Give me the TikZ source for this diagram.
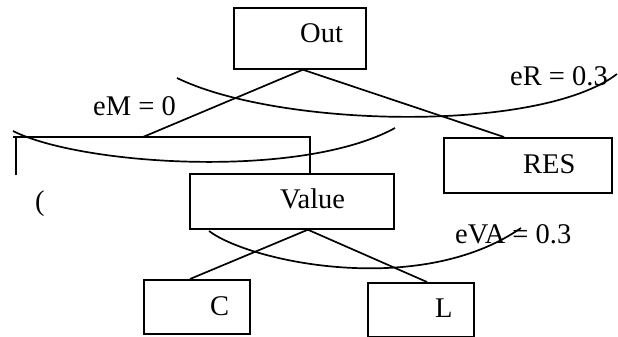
\documentclass[tikz,border=0pt]{standalone}
\usepackage{fontspec}
\setmainfont{Liberation Serif}
\usetikzlibrary{calc}
\begin{document}
\begin{tikzpicture}[x=1pt,y=-1pt,
  box/.style={draw,line width=1.7pt,inner sep=0pt,anchor=north west},
  lbl/.style={inner sep=0pt,anchor=base west,font=\fontsize{28.5}{30}\selectfont},
  wire/.style={line width=1.7pt},
  curve/.style={line width=1.7pt}]
\useasboundingbox (0,0) rectangle (618,337);

% boxes
\node[box,minimum width=132pt,minimum height=61pt] (out) at (233,7) {};
\node[box,minimum width=168pt,minimum height=55pt] (res) at (443,137) {};
\node[box,minimum width=204pt,minimum height=55pt] (value) at (189,173) {};
\node[box,minimum width=106pt,minimum height=54pt] (c) at (143,279) {};
\node[box,minimum width=106pt,minimum height=54pt] (l) at (367,282) {};

% open frame on the left
\coordinate (fa) at (13,137);
\coordinate (fb) at (310,137);
\coordinate (fl) at (16,175);
\draw[wire] (fa) -- (fb) -- (fb |- value.north);
\draw[wire] (fl) -- (fl |- fa);

% connectors
\coordinate (outv) at ($(out.south)+(3,0)$);
\coordinate (mtop) at (143,137);
\draw[wire] (outv) -- (mtop);
\draw[wire] (outv) -- ($(res.north west)+(61,0)$);
\coordinate (valv) at ($(value.south)+(16,0)$);
\draw[wire] (valv) -- ($(c.north west)+(47,0)$);
\draw[wire] (valv) -- ($(l.north west)+(60,0)$);

% arcs
\draw[curve] (177,78) .. controls (280,128) and (540,133) .. (617,74);
\draw[curve] (13,131) .. controls (80,165) and (300,180) .. (395,128);
\draw[curve] (209,231) .. controls (250,262) and (420,298) .. (521,228);

% labels
\node[lbl] (outt) at (300,43) {Out};
\node[lbl] (ert) at (510,85) {eR = 0.3};
\node[lbl] (emt) at (93,115) {eM = 0};
\node[lbl] (rest) at (523,173) {RES};
\node[lbl] (valt) at (280,208) {Value};
\node[lbl] (evat) at (455,243) {eVA = 0.3};
\node[lbl] (ct) at (210,315) {C};
\node[lbl] (lt) at (435,317) {L};
\node[lbl] (par) at (35,210) {(};
\end{tikzpicture}
\end{document}
